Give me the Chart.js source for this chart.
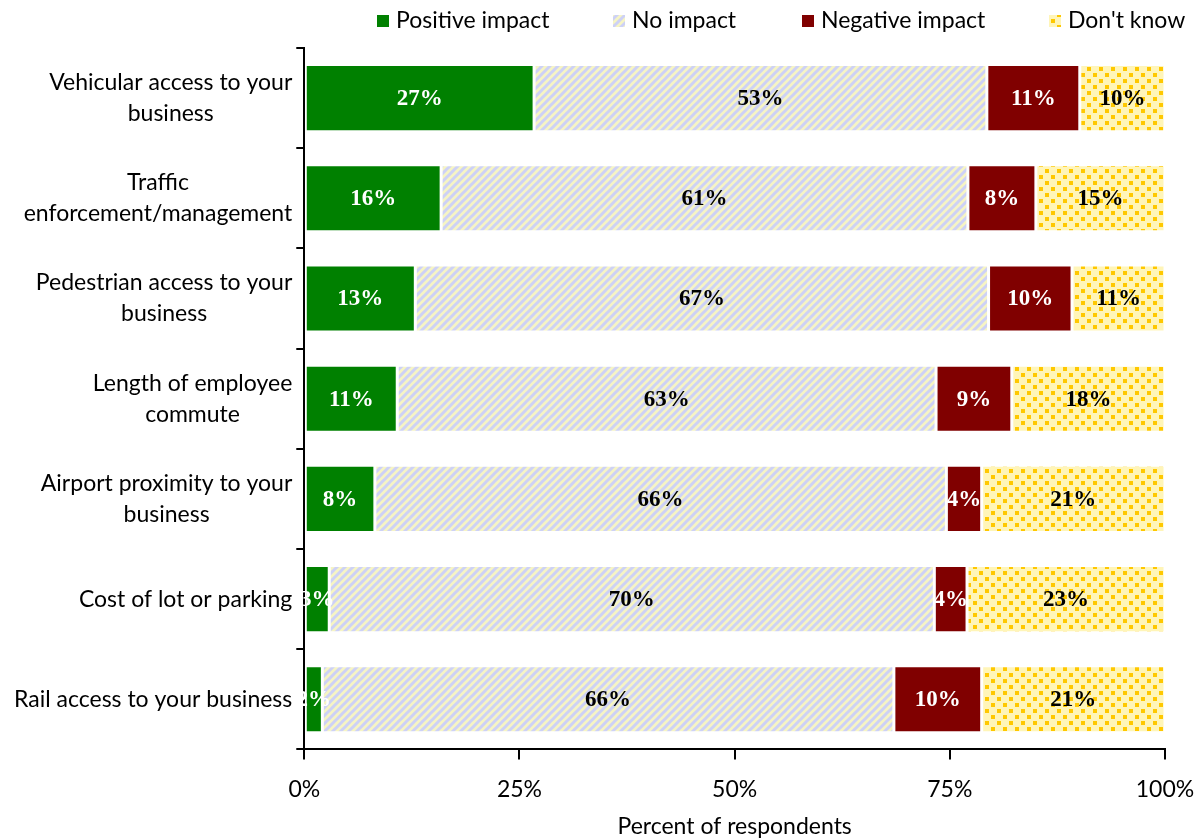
<!DOCTYPE html>
<html>
<head>
<meta charset="utf-8">
<script src="https://cdn.jsdelivr.net/npm/chart.js@4"></script>
<style>
  html, body { margin: 0; padding: 0; background: #fff; }
  #wrap { width: 1202px; height: 838px; }
</style>
</head>
<body>
<div id="wrap"><canvas id="myChart" width="1202" height="838"></canvas></div>
<script>
const categories = [
  ["Vehicular access to your", "business"],
  ["Traffic", "enforcement/management"],
  ["Pedestrian access to your", "business"],
  ["Length of employee", "commute"],
  ["Airport proximity to your", "business"],
  "Cost of lot or parking",
  "Rail access to your business"
];
const seriesNames = ["Positive impact", "No impact", "Negative impact", "Don't know"];
const positive = [26.7, 15.9, 12.9, 10.8, 8.2, 2.9, 2.1];
const noImpact = [52.6, 61.2, 66.6, 62.6, 66.4, 70.3, 66.4];
const negative = [10.8, 7.9, 9.7, 8.8, 4.1, 3.8, 10.2];
const dontKnow = [9.9, 15.0, 10.8, 17.8, 21.3, 23.0, 21.3];
const xTicks = [0, 25, 50, 75, 100];

const LABEL_FONT = "Lato";
// left edge of each legend box
const legendX = [377, 613, 802, 1049];

// diagonal blue/yellow stripes
function stripePattern(ctx) {
  const c = document.createElement('canvas');
  c.width = 8; c.height = 8;
  const g = c.getContext('2d');
  g.fillStyle = '#f6f4c4';
  g.fillRect(0, 0, 8, 8);
  g.strokeStyle = '#cdd1f6';
  g.lineWidth = 3;
  g.beginPath();
  g.moveTo(-1, 9); g.lineTo(9, -1);
  g.moveTo(-5, 5); g.lineTo(5, -5);
  g.moveTo(3, 13); g.lineTo(13, 3);
  g.stroke();
  return ctx.createPattern(c, 'repeat');
}

// gold squares on pale yellow
function dotPattern(ctx) {
  const c = document.createElement('canvas');
  c.width = 12; c.height = 12;
  const g = c.getContext('2d');
  g.fillStyle = '#fff5b8';
  g.fillRect(0, 0, 12, 12);
  g.fillStyle = '#ffc800';
  g.fillRect(1, 1, 4, 4);
  g.fillRect(7, 7, 4, 4);
  return ctx.createPattern(c, 'repeat');
}

// value labels in the middle of each segment
const barLabels = {
  id: 'barLabels',
  afterDatasetsDraw(chart) {
    const ctx = chart.ctx;
    ctx.save();
    ctx.font = 'bold 23px "Liberation Serif"';
    ctx.textAlign = 'center';
    ctx.textBaseline = 'middle';
    chart.data.datasets.forEach((ds, di) => {
      const meta = chart.getDatasetMeta(di);
      meta.data.forEach((bar, i) => {
        ctx.fillStyle = ds.labelColor;
        ctx.fillText(Math.round(ds.data[i]) + '%', (bar.x + bar.base) / 2, bar.y + 1);
      });
    });
    ctx.restore();
  }
};

// category labels: lines centred on each other, block right-aligned to the axis
const yLabels = {
  id: 'yLabels',
  afterDraw(chart) {
    const ctx = chart.ctx;
    const y = chart.scales.y;
    ctx.save();
    ctx.font = '23px ' + LABEL_FONT;
    ctx.fillStyle = '#000';
    ctx.textAlign = 'center';
    ctx.textBaseline = 'middle';
    categories.forEach((lab, i) => {
      const lines = Array.isArray(lab) ? lab : [lab];
      const w = Math.max(...lines.map(l => ctx.measureText(l).width));
      const cx = y.right - 12 - w / 2;
      const cy = y.getPixelForTick(i);
      lines.forEach((l, j) => {
        ctx.fillText(l, cx, cy + (j - (lines.length - 1) / 2) * 31);
      });
    });
    ctx.restore();
  }
};

// legend row across the top
const topLegend = {
  id: 'topLegend',
  afterDraw(chart) {
    const ctx = chart.ctx;
    ctx.save();
    ctx.font = '23px ' + LABEL_FONT;
    ctx.textBaseline = 'middle';
    ctx.textAlign = 'left';
    chart.data.datasets.forEach((ds, i) => {
      const x = legendX[i];
      const yMid = 21;
      ctx.fillStyle = ds.backgroundColor;
      ctx.fillRect(x, yMid - 6, 12, 12);
      ctx.fillStyle = '#000';
      ctx.fillText(ds.label, x + 19, yMid);
    });
    ctx.restore();
  }
};

const ctx = document.getElementById('myChart').getContext('2d');
const myChart = new Chart(ctx, {
  type: 'bar',
  data: {
    labels: categories,
    datasets: [
      { label: seriesNames[0], data: positive, backgroundColor: '#008000', labelColor: '#fff' },
      { label: seriesNames[1], data: noImpact, backgroundColor: stripePattern(ctx), labelColor: '#000' },
      { label: seriesNames[2], data: negative, backgroundColor: '#800000', labelColor: '#fff' },
      { label: seriesNames[3], data: dontKnow, backgroundColor: dotPattern(ctx), labelColor: '#000' }
    ]
  },
  options: {
    indexAxis: 'y',
    responsive: false,
    animation: false,
    layout: { padding: { left: 10, right: 37, top: 48, bottom: 0 } },
    datasets: {
      bar: {
        borderColor: '#fff',
        borderWidth: 1.5,
        borderSkipped: false,
        categoryPercentage: 0.67,
        barPercentage: 1
      }
    },
    scales: {
      x: {
        stacked: true,
        min: 0,
        max: 100,
        afterBuildTicks: (s) => { s.ticks = xTicks.map(v => ({ value: v })); },
        afterFit: (s) => { s.paddingRight = 0; },
        ticks: {
          callback: (v) => v + '%',
          color: '#000',
          font: { family: LABEL_FONT, size: 23 },
          maxRotation: 0,
          padding: 16
        },
        grid: { drawOnChartArea: false, color: '#000', lineWidth: 2, tickLength: 10 },
        border: { color: '#000', width: 2 },
        title: {
          display: true,
          text: 'Percent of respondents',
          color: '#000',
          font: { family: LABEL_FONT, size: 23, lineHeight: 1 },
          padding: { top: -4, bottom: 0 }
        }
      },
      y: {
        stacked: true,
        ticks: {
          color: 'rgba(0,0,0,0)',
          font: { family: LABEL_FONT, size: 23, lineHeight: 1.35 },
          padding: 4
        },
        grid: { offset: true, drawOnChartArea: false, color: '#000', lineWidth: 2, tickLength: 8 },
        border: { color: '#000', width: 2 }
      }
    },
    plugins: {
      tooltip: { enabled: false },
      legend: { display: false }
    }
  },
  plugins: [barLabels, yLabels, topLegend]
});
</script>
</body>
</html>
